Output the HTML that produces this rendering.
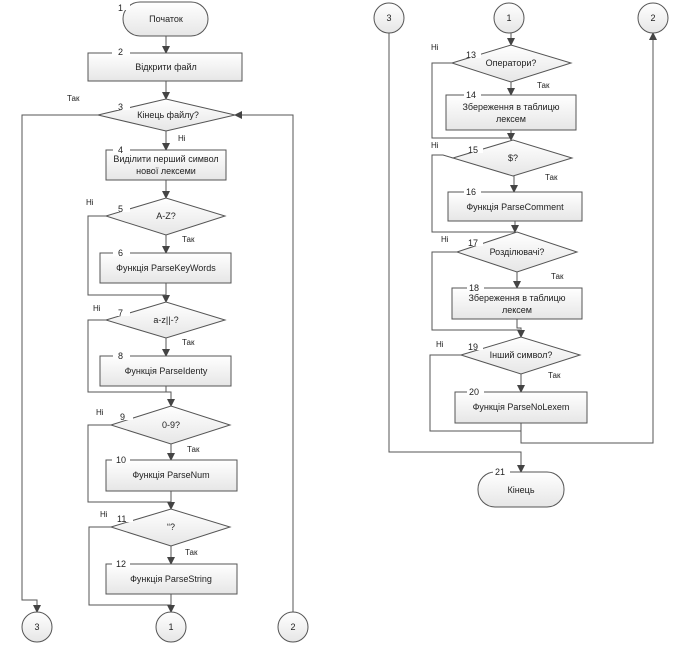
<!DOCTYPE html>
<html><head><meta charset="utf-8"><style>
html,body{margin:0;padding:0;background:#fff;}
svg{display:block;font-family:"Liberation Sans",sans-serif;}
text{font-size:9px;fill:#222;}
</style></head><body>
<svg width="680" height="647" viewBox="0 0 680 647" xmlns="http://www.w3.org/2000/svg">
<defs>
<linearGradient id="g" x1="0" y1="0" x2="0" y2="1"><stop offset="0" stop-color="#ffffff"/><stop offset="1" stop-color="#e6e6e6"/></linearGradient>
<marker id="a" markerWidth="8" markerHeight="8" refX="7" refY="4" orient="auto" markerUnits="userSpaceOnUse"><path d="M0,0 L8,4 L0,8 z" fill="#444"/></marker>
</defs>
<g fill="none" stroke="#555" stroke-width="1">
<!-- left column connectors -->
<path d="M166,36 V53" marker-end="url(#a)"/>
<path d="M166,81 V99" marker-end="url(#a)"/>
<path d="M166,131 V150" marker-end="url(#a)"/>
<path d="M166,180 V198" marker-end="url(#a)"/>
<path d="M166,235 V253" marker-end="url(#a)"/>
<path d="M166,283 V302" marker-end="url(#a)"/>
<path d="M106,216 H88 V295 H166"/>
<path d="M166,338 V356" marker-end="url(#a)"/>
<path d="M106,320 H88 V392 H171"/>
<path d="M166,386 V392 H171 V406" marker-end="url(#a)"/>
<path d="M171,444 V460" marker-end="url(#a)"/>
<path d="M111,425 H88 V502 H171"/>
<path d="M171,491 V509" marker-end="url(#a)"/>
<path d="M171,546 V564" marker-end="url(#a)"/>
<path d="M111,527 H89 V605 H171"/>
<path d="M171,594 V612" marker-end="url(#a)"/>
<path d="M98,115 H22 V600 H37 V612" marker-end="url(#a)"/>
<path d="M293,612 V115 H235" marker-end="url(#a)"/>
<!-- right column connectors -->
<path d="M511,33 V45" marker-end="url(#a)"/>
<path d="M511,82 V95" marker-end="url(#a)"/>
<path d="M452,63 H432 V138 H511"/>
<path d="M511,130 V140" marker-end="url(#a)"/>
<path d="M453,158 L443,155 H432 V232 H515"/>
<path d="M514,176 V192" marker-end="url(#a)"/>
<path d="M515,221 V232" marker-end="url(#a)"/>
<path d="M457,252 H432 V330 H520"/>
<path d="M517,272 V288" marker-end="url(#a)"/>
<path d="M517,319 V328 H521 V337" marker-end="url(#a)"/>
<path d="M461,355 H430 V431 H521"/>
<path d="M521,374 V392" marker-end="url(#a)"/>
<path d="M521,423 V443 H653 V33" marker-end="url(#a)"/>
<path d="M389,33 V452 H521 V472" marker-end="url(#a)"/>
</g>
<g stroke="#555" stroke-width="1" fill="url(#g)">
<!-- shapes left -->
<rect x="123" y="2" width="85" height="34" rx="17"/>
<rect x="88" y="53" width="154" height="28"/>
<polygon points="98,115 166,99 235,115 166,131"/>
<rect x="106" y="150" width="120" height="30"/>
<polygon points="106,216 166,198 225,216 166,235"/>
<rect x="100" y="253" width="131" height="30"/>
<polygon points="106,320 166,302 225,320 166,338"/>
<rect x="100" y="356" width="131" height="30"/>
<polygon points="111,425 171,406 230,425 171,444"/>
<rect x="106" y="460" width="131" height="31"/>
<polygon points="111,527 171,509 230,527 171,546"/>
<rect x="106" y="564" width="131" height="30"/>
<circle cx="37" cy="627" r="15"/>
<circle cx="171" cy="627" r="15"/>
<circle cx="293" cy="627" r="15"/>
<!-- right -->
<circle cx="389" cy="18" r="15"/>
<circle cx="509" cy="18" r="15"/>
<circle cx="653" cy="18" r="15"/>
<polygon points="452,63 511,45 571,63 511,82"/>
<rect x="446" y="95" width="130" height="35"/>
<polygon points="453,158 513,140 572,158 513,176"/>
<rect x="448" y="192" width="134" height="29"/>
<polygon points="457,252 517,232 577,252 517,272"/>
<rect x="452" y="288" width="130" height="31"/>
<polygon points="461,355 521,337 580,355 521,374"/>
<rect x="455" y="392" width="132" height="31"/>
<rect x="478" y="472" width="86" height="35" rx="17"/>
</g>
<!-- number tabs -->
<g fill="#fff" stroke="none">
<rect x="114" y="3" width="16" height="7"/>
<rect x="112" y="48" width="18" height="7"/>
<rect x="113" y="103" width="17" height="7"/>
<rect x="113" y="146" width="17" height="7"/>
<rect x="113" y="205" width="17" height="7"/>
<rect x="113" y="249" width="17" height="7"/>
<rect x="113" y="309" width="17" height="7"/>
<rect x="113" y="352" width="17" height="7"/>
<rect x="116" y="413" width="17" height="7"/>
<rect x="112" y="456" width="18" height="7"/>
<rect x="116" y="515" width="17" height="7"/>
<rect x="112" y="560" width="18" height="7"/>
<rect x="464" y="51" width="17" height="7"/>
<rect x="464" y="91" width="17" height="7"/>
<rect x="466" y="146" width="17" height="7"/>
<rect x="464" y="188" width="17" height="7"/>
<rect x="466" y="239" width="17" height="7"/>
<rect x="467" y="284" width="17" height="7"/>
<rect x="466" y="343" width="17" height="7"/>
<rect x="467" y="388" width="17" height="7"/>
<rect x="493" y="468" width="17" height="7"/>
</g>
<g>
<text x="118" y="11">1</text><text x="118" y="55">2</text><text x="118" y="110">3</text>
<text x="118" y="153">4</text><text x="118" y="212">5</text><text x="118" y="256">6</text>
<text x="118" y="316">7</text><text x="118" y="359">8</text><text x="120" y="420">9</text>
<text x="116" y="463">10</text><text x="117" y="522">11</text><text x="116" y="567">12</text>
<text x="466" y="58">13</text><text x="466" y="98">14</text><text x="468" y="153">15</text>
<text x="466" y="195">16</text><text x="468" y="246">17</text><text x="469" y="291">18</text>
<text x="468" y="350">19</text><text x="469" y="395">20</text><text x="495" y="475">21</text>
</g>
<g text-anchor="middle">
<text x="166" y="22">Початок</text>
<text x="166" y="70">Відкрити файл</text>
<text x="168" y="118">Кінець файлу?</text>
<text x="166" y="162">Виділити перший символ</text>
<text x="166" y="174">нової лексеми</text>
<text x="166" y="219">A-Z?</text>
<text x="166" y="271">Функція ParseKeyWords</text>
<text x="166" y="323">a-z||-?</text>
<text x="166" y="374">Функція ParseIdenty</text>
<text x="171" y="428">0-9?</text>
<text x="171" y="478">Функція ParseNum</text>
<text x="171" y="530">“?</text>
<text x="171" y="582">Функція ParseString</text>
<text x="37" y="630" font-size="8">3</text>
<text x="171" y="630" font-size="8">1</text>
<text x="293" y="630" font-size="8">2</text>
<text x="389" y="21" font-size="8">3</text>
<text x="509" y="21" font-size="8">1</text>
<text x="653" y="21" font-size="8">2</text>
<text x="511" y="66">Оператори?</text>
<text x="511" y="110">Збереження в таблицю</text>
<text x="511" y="122">лексем</text>
<text x="513" y="161">$?</text>
<text x="515" y="210">Функція ParseComment</text>
<text x="517" y="255">Розділювачі?</text>
<text x="517" y="301">Збереження в таблицю</text>
<text x="517" y="313">лексем</text>
<text x="521" y="358">Інший символ?</text>
<text x="521" y="410">Функція ParseNoLexem</text>
<text x="521" y="493">Кінець</text>
</g>
<g font-size="8">
<text x="67" y="101" style="font-size:8px">Так</text>
<text x="178" y="141" style="font-size:8px">Ні</text>
<text x="86" y="205" style="font-size:8px">Ні</text>
<text x="182" y="242" style="font-size:8px">Так</text>
<text x="93" y="311" style="font-size:8px">Ні</text>
<text x="182" y="345" style="font-size:8px">Так</text>
<text x="96" y="415" style="font-size:8px">Ні</text>
<text x="187" y="452" style="font-size:8px">Так</text>
<text x="100" y="517" style="font-size:8px">Ні</text>
<text x="185" y="555" style="font-size:8px">Так</text>
<text x="431" y="50" style="font-size:8px">Ні</text>
<text x="537" y="88" style="font-size:8px">Так</text>
<text x="431" y="148" style="font-size:8px">Ні</text>
<text x="545" y="180" style="font-size:8px">Так</text>
<text x="441" y="242" style="font-size:8px">Ні</text>
<text x="551" y="279" style="font-size:8px">Так</text>
<text x="436" y="347" style="font-size:8px">Ні</text>
<text x="548" y="378" style="font-size:8px">Так</text>
</g>
</svg>
</body></html>
